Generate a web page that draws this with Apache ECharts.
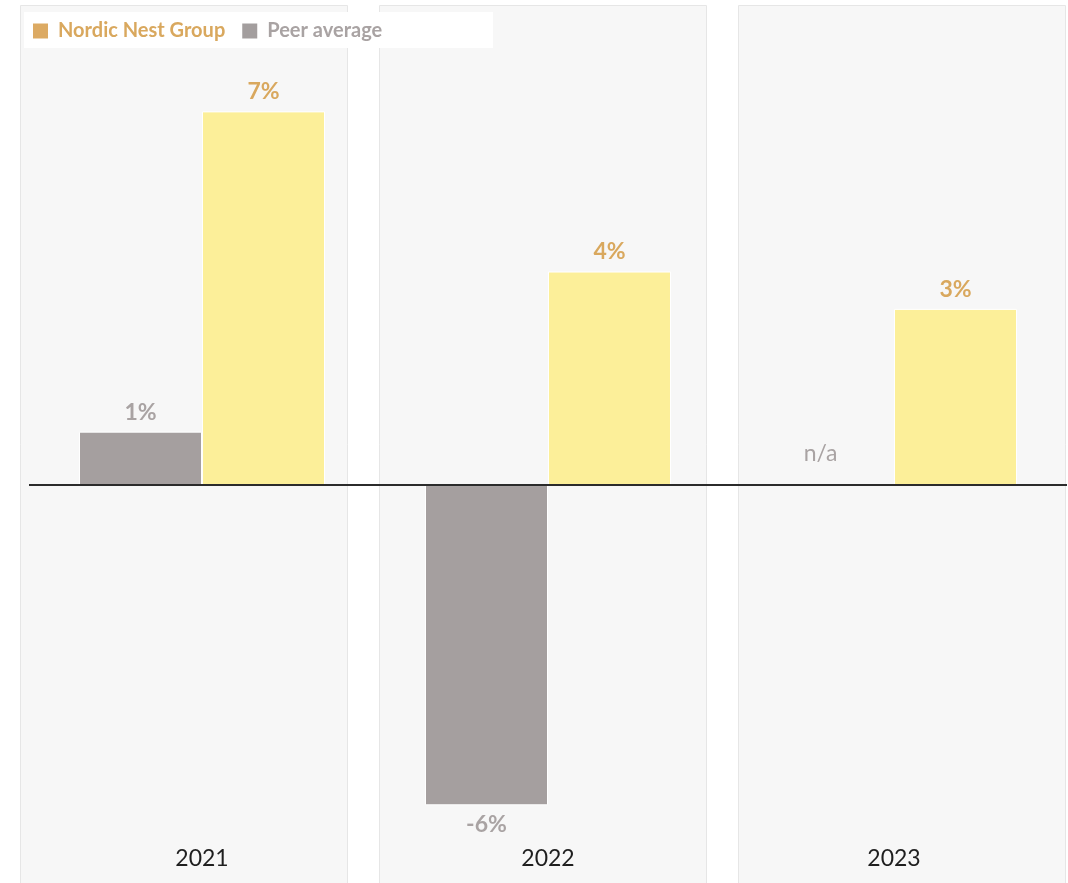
<!DOCTYPE html>
<html>
<head>
<meta charset="utf-8">
<style>
  html, body { margin: 0; padding: 0; background: #ffffff; }
  #chart { width: 1068px; height: 883px; }
</style>
<script src="https://cdn.jsdelivr.net/npm/echarts@6/dist/echarts.min.js"></script>
</head>
<body>
<div id="chart"></div>
<script>
// Yearly growth, Nordic Nest Group vs. peer average (%)
const years = ['2021', '2022', '2023'];
const nordicNest = [7, 4, 3.3];
const peerAverage = [1, -6, null];   // null = not available

const GOLD_TEXT = '#d9a85e';
const GREY_TEXT = '#a9a3a3';
const FONT = 'Lato, "Open Sans", sans-serif';

const pct = v => Math.round(v) + '%';

function barItems(values, labelColor) {
  return values.map(v => {
    if (v === null) {
      return {
        value: 0,
        itemStyle: { color: 'transparent', borderWidth: 0 },
        label: {
          show: true, position: 'top', distance: 20, offset: [-12, 0],
          formatter: 'n/a', color: GREY_TEXT, fontWeight: 'normal'
        }
      };
    }
    return {
      value: v,
      label: { position: v < 0 ? 'bottom' : 'top', color: labelColor }
    };
  });
}

const chart = echarts.init(document.getElementById('chart'), null, { renderer: 'canvas' });

const PANEL_GAP = 32;

chart.setOption({
  animation: false,
  backgroundColor: '#ffffff',
  textStyle: { fontFamily: FONT },
  grid: [
    { left: 29, right: 1, top: 58, bottom: 51 },   // bars
    { left: 20, right: 3, top: 5, bottom: 0 }      // year panels
  ],
  xAxis: [
    {
      type: 'category', gridIndex: 0, data: years, z: 10,
      axisLine: { show: false }, axisTick: { show: false },
      axisLabel: { margin: 15, color: '#1f1f1f', fontSize: 23, fontFamily: FONT }
    },
    { type: 'category', gridIndex: 1, data: years, show: false }
  ],
  yAxis: [
    { type: 'value', gridIndex: 0, min: -6.5, max: 8, show: false, splitLine: { show: false } },
    { type: 'value', gridIndex: 1, min: 0, max: 1, show: false, splitLine: { show: false } }
  ],
  legend: {
    left: 31, top: 21, padding: 0,
    itemWidth: 17, itemHeight: 17, itemGap: 15,
    icon: 'rect',
    selectedMode: false,
    data: [
      { name: 'Nordic Nest Group', itemStyle: { color: '#dcaa63' }, textStyle: { color: GOLD_TEXT } },
      { name: 'Peer average', itemStyle: { color: '#a39e9e' }, textStyle: { color: GREY_TEXT } }
    ],
    textStyle: { fontSize: 20, fontWeight: 'bold', fontFamily: FONT, padding: [11, 0, 0, 4] },
    z: 6
  },
  graphic: [
    {
      type: 'rect', z: 5, left: 24, top: 12,
      shape: { width: 469, height: 36 },
      style: { fill: '#ffffff' }
    }
  ],
  series: [
    {
      // one light panel behind each year
      type: 'custom', xAxisIndex: 1, yAxisIndex: 1, z: 1, silent: true,
      data: years.map((y, i) => [i, 1]),
      renderItem: (params, api) => {
        const cs = params.coordSys;
        const n = years.length;
        const w = (cs.width - (n - 1) * PANEL_GAP) / n;
        const x = cs.x + api.value(0) * (w + PANEL_GAP);
        return {
          type: 'rect',
          shape: { x: Math.round(x) + 0.5, y: cs.y + 0.5, width: Math.round(w), height: cs.height + 10 },
          style: { fill: '#f7f7f7', stroke: '#e6e6e6', lineWidth: 1 }
        };
      }
    },
    {
      name: 'Peer average', type: 'bar', xAxisIndex: 0, yAxisIndex: 0, z: 3,
      barWidth: 123, barGap: '0%',
      itemStyle: { color: '#a59f9f', borderColor: '#ffffff', borderWidth: 1 },
      label: {
        show: true, distance: 8, formatter: p => pct(p.value),
        fontSize: 23, fontWeight: 'bold', fontFamily: FONT, color: GREY_TEXT
      },
      data: barItems(peerAverage, GREY_TEXT)
    },
    {
      name: 'Nordic Nest Group', type: 'bar', xAxisIndex: 0, yAxisIndex: 0, z: 3,
      barWidth: 123,
      itemStyle: { color: '#fcef99', borderColor: '#ffffff', borderWidth: 1 },
      label: {
        show: true, distance: 8, formatter: p => pct(p.value),
        fontSize: 23, fontWeight: 'bold', fontFamily: FONT, color: GOLD_TEXT
      },
      data: barItems(nordicNest, GOLD_TEXT),
      markLine: {
        silent: true, symbol: ['none', 'none'],
        label: { show: false },
        lineStyle: { color: '#2b2b2b', width: 2, type: 'solid' },
        data: [{ yAxis: 0 }]
      }
    }
  ]
});
</script>
</body>
</html>
